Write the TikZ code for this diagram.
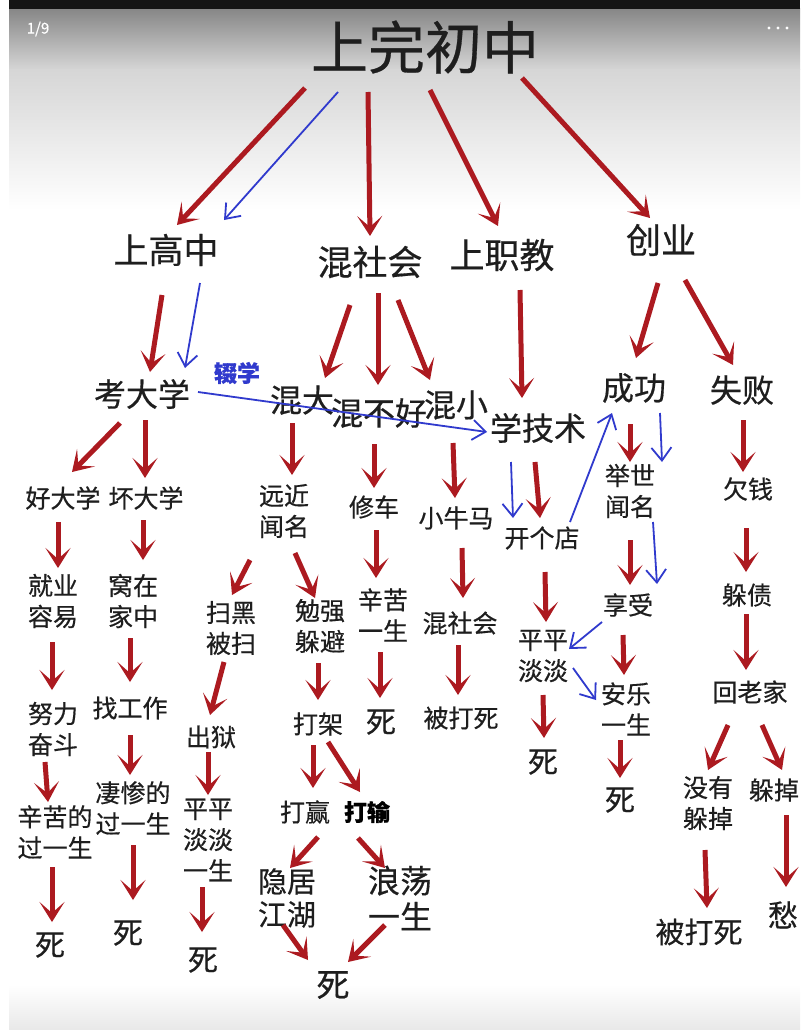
\documentclass[tikz,border=0pt]{standalone}
\usepackage{fontspec}
\setmainfont[FakeBold=0.5]{Noto Sans CJK SC}
\usetikzlibrary{arrows.meta}
\definecolor{arrred}{RGB}{172,26,32}
\definecolor{penblue}{RGB}{48,58,205}
\definecolor{txtgray}{RGB}{30,30,30}
\tikzset{
  every node/.style={text=txtgray, inner sep=0pt, align=center},
  lvtop/.style={font=\fontsize{57}{60}\selectfont},
  lvone/.style={font=\fontsize{35}{38}\selectfont},
  lvtwo/.style={font=\fontsize{32}{36}\selectfont},
  lvtext/.style={font=\fontsize{25}{31}\selectfont},
  lvsi/.style={font=\fontsize{30}{32}\selectfont},
  redarr/.style={draw=arrred, line width=5pt, -{Stealth[length=20pt,width=25pt,inset=11pt]}},
  bluearr/.style={draw=penblue, line width=1.8pt, -{Straight Barb[length=13pt,width=20pt,line width=1.8pt]}}
}
\begin{document}
\begin{tikzpicture}[x=1pt,y=-1pt]
  % frame of the screenshot
  \useasboundingbox (0,0) rectangle (800,1030);
  \clip (0,0) rectangle (800,1030);
  \fill[white] (0,0) rectangle (800,1030);
  \shade[top color={rgb,255:red,135;green,135;blue,135}, bottom color={rgb,255:red,214;green,214;blue,214}] (9,9) rectangle (800,70);
  \shade[top color={rgb,255:red,214;green,214;blue,214}, bottom color=white] (9,70) rectangle (800,210);
  \shade[top color=white, bottom color={rgb,255:red,232;green,232;blue,232}] (9,985) rectangle (800,1030);
  \fill[black!92] (9,0) rectangle (800,9);
  \node[text=white!88, font=\fontsize{15}{15}\selectfont] (page) at (38,29) {1/9};
  \foreach \dx in {769,778,787} \fill[white] (\dx,28) circle (1.6);

  % top level
  \node[lvtop] (top) at (425,47) {上完初中};
  \node[lvone] (gz) at (166,250) {上高中};
  \node[lvone] (hsh) at (370,262) {混社会};
  \node[lvone] (zj) at (502,255) {上职教};
  \node[lvone] (cy) at (661,240) {创业};

  % second level
  \node[lvtwo] (kdx) at (142,394) {考大学};
  \node[lvtwo] (hd) at (302,400) {混大};
  \node[lvtwo] (hbh) at (379,413) {混不好};
  \node[lvtwo] (hx) at (456,405) {混小};
  \node[lvtwo] (xjs) at (538,428) {学技术};
  \node[lvtwo] (cg) at (634,388) {成功};
  \node[lvtwo] (sb) at (742,390) {失败};
  \node[text=penblue, font=\fontsize{23}{25}\selectfont\bfseries] (chuoxue) at (237,373) {辍学};

  % third level
  \node[lvtext] (hdx) at (63,498) {好大学};
  \node[lvtext] (hudx) at (146,498) {坏大学};
  \node[lvtext] (yjwm) at (284,511) {远近\\闻名};
  \node[lvtext] (xc) at (374,507) {修车};
  \node[lvtext] (xnm) at (456,518) {小牛马};
  \node[lvtext] (kgd) at (542,538) {开个店};
  \node[lvtext] (jswm) at (630,491) {举世\\闻名};
  \node[lvtext] (qq) at (748,489) {欠钱};

  % fourth level
  \node[lvtext] (jyry) at (53,601) {就业\\容易};
  \node[lvtext] (wzjz) at (133,601) {窝在\\家中};
  \node[lvtext] (shbs) at (231,628) {扫黑\\被扫};
  \node[lvtext] (mqdb) at (320,626) {勉强\\躲避};
  \node[lvtext] (xkys) at (383,615) {辛苦\\一生};
  \node[lvtext] (hsh2) at (460,623) {混社会};
  \node[lvtext] (ppdd) at (543,656) {平平\\淡淡};
  \node[lvtext] (xs) at (628,605) {享受};
  \node[lvtext] (dz) at (747,595) {躲债};

  % fifth level
  \node[lvtext] (nlfd) at (53,729) {努力\\奋斗};
  \node[lvtext] (zgz) at (130,708) {找工作};
  \node[lvtext] (chuyu) at (211,737) {出狱};
  \node[lvtext] (dj) at (318,724) {打架};
  \node[lvsi] (si1) at (381,722) {死};
  \node[lvtext] (bds1) at (461,718) {被打死};
  \node[lvsi] (si2) at (543,762) {死};
  \node[lvtext] (alys) at (626,709) {安乐\\一生};
  \node[lvtext] (hlj) at (750,692) {回老家};

  % sixth level
  \node[lvtext] (xkdgys) at (55,832) {辛苦的\\过一生};
  \node[lvtext] (qcdgys) at (133,808) {凄惨的\\过一生};
  \node[lvtext] (ppddys) at (208,840) {平平\\淡淡\\一生};
  \node[lvtext] (dy) at (305,812) {打赢};
  \node[lvtext, text=black, font=\fontsize{23}{25}\selectfont\bfseries] (ds) at (367,812) {打输};
  \node[lvsi] (si3) at (620,800) {死};
  \node[lvtext] (myddl) at (708,803) {没有\\躲掉};
  \node[lvtext] (ddl) at (774,790) {躲掉};

  % seventh level
  \node[lvsi] (si4) at (50,945) {死};
  \node[lvsi] (si5) at (128,933) {死};
  \node[lvsi] (si6) at (203,960) {死};
  \node[font=\fontsize{29}{33}\selectfont] (yjjh) at (287,898) {隐居\\江湖};
  \node[font=\fontsize{32}{36}\selectfont] (ldys) at (400,898) {浪荡\\一生};
  \node[font=\fontsize{29}{31}\selectfont] (bds2) at (699,932) {被打死};
  \node[lvsi] (chou) at (783,915) {愁};
  \node[font=\fontsize{33}{35}\selectfont] (si7) at (333,985) {死};

  % red arrows
  \draw[redarr] ([shift={(-120,41)}]top.center) -- ([shift={(11,-25)}]gz.center);
  \draw[redarr] ([shift={(-57,45)}]top.center) -- ([shift={(0,-26)}]hsh.center);
  \draw[redarr] ([shift={(5,43)}]top.center) -- ([shift={(-4,-29)}]zj.center);
  \draw[redarr] ([shift={(97,31)}]top.center) -- ([shift={(-11,-22)}]cy.center);
  \draw[redarr] ([shift={(-4,45)}]gz.center) -- ([shift={(8,-22)}]kdx.center);
  \draw[redarr] ([shift={(-20,43)}]hsh.center) -- ([shift={(23,-22)}]hd.center);
  \draw[redarr] ([shift={(8,31)}]hsh.center) -- ([shift={(-1,-28)}]hbh.center);
  \draw[redarr] ([shift={(28,38)}]hsh.center) -- ([shift={(-26,-25)}]hx.center);
  \draw[redarr] ([shift={(18,35)}]zj.center) -- ([shift={(-16,-30)}]xjs.center);
  \draw[redarr] ([shift={(-3,43)}]cy.center) -- ([shift={(2,-30)}]cg.center);
  \draw[redarr] ([shift={(24,40)}]cy.center) -- ([shift={(-9,-25)}]sb.center);
  \draw[redarr] ([shift={(-22,29)}]kdx.center) -- ([shift={(9,-26)}]hdx.center);
  \draw[redarr] ([shift={(3,26)}]kdx.center) -- ([shift={(-1,-20)}]hudx.center);
  \draw[redarr] ([shift={(-10,23)}]hd.center) -- ([shift={(8,-36)}]yjwm.center);
  \draw[redarr] ([shift={(-5,31)}]hbh.center) -- ([shift={(0,-19)}]xc.center);
  \draw[redarr] ([shift={(-3,38)}]hx.center) -- ([shift={(-1,-20)}]xnm.center);
  \draw[redarr] ([shift={(-3,34)}]xjs.center) -- ([shift={(-2,-20)}]kgd.center);
  \draw[redarr] ([shift={(-4,36)}]cg.center) -- ([shift={(0,-29)}]jswm.center);
  \draw[redarr] ([shift={(1,30)}]sb.center) -- ([shift={(-5,-17)}]qq.center);
  \draw[redarr] ([shift={(-5,24)}]hdx.center) -- ([shift={(5,-33)}]jyry.center);
  \draw[redarr] ([shift={(-3,22)}]hudx.center) -- ([shift={(10,-41)}]wzjz.center);
  \draw[redarr] ([shift={(-34,49)}]yjwm.center) -- ([shift={(1,-33)}]shbs.center);
  \draw[redarr] ([shift={(11,42)}]yjwm.center) -- ([shift={(-5,-28)}]mqdb.center);
  \draw[redarr] ([shift={(2,23)}]xc.center) -- ([shift={(-7,-37)}]xkys.center);
  \draw[redarr] ([shift={(6,30)}]xnm.center) -- ([shift={(3,-25)}]hsh2.center);
  \draw[redarr] ([shift={(3,34)}]kgd.center) -- ([shift={(3,-34)}]ppdd.center);
  \draw[redarr] ([shift={(0,49)}]jswm.center) -- ([shift={(2,-20)}]xs.center);
  \draw[redarr] ([shift={(-2,39)}]qq.center) -- ([shift={(-1,-23)}]dz.center);
  \draw[redarr] ([shift={(-1,41)}]jyry.center) -- ([shift={(-1,-39)}]nlfd.center);
  \draw[redarr] ([shift={(-3,37)}]wzjz.center) -- ([shift={(0,-26)}]zgz.center);
  \draw[redarr] ([shift={(-7,34)}]shbs.center) -- ([shift={(-1,-22)}]chuyu.center);
  \draw[redarr] ([shift={(-2,37)}]mqdb.center) -- ([shift={(0,-24)}]dj.center);
  \draw[redarr] ([shift={(-3,37)}]xkys.center) -- ([shift={(-1,-24)}]si1.center);
  \draw[redarr] ([shift={(-2,22)}]hsh2.center) -- ([shift={(-3,-23)}]bds1.center);
  \draw[redarr] ([shift={(0,39)}]ppdd.center) -- ([shift={(1,-24)}]si2.center);
  \draw[redarr] ([shift={(-5,30)}]xs.center) -- ([shift={(-2,-34)}]alys.center);
  \draw[redarr] ([shift={(-1,19)}]dz.center) -- ([shift={(-4,-22)}]hlj.center);
  \draw[redarr] ([shift={(-8,33)}]nlfd.center) -- ([shift={(-7,-30)}]xkdgys.center);
  \draw[redarr] ([shift={(0,27)}]zgz.center) -- ([shift={(-3,-33)}]qcdgys.center);
  \draw[redarr] ([shift={(-3,15)}]chuyu.center) -- ([shift={(0,-45)}]ppddys.center);
  \draw[redarr] ([shift={(-5,21)}]dj.center) -- ([shift={(8,-24)}]dy.center);
  \draw[redarr] ([shift={(10,18)}]dj.center) -- ([shift={(-7,-20)}]ds.center);
  \draw[redarr] ([shift={(-6,31)}]alys.center) -- ([shift={(0,-22)}]si3.center);
  \draw[redarr] ([shift={(-22,33)}]hlj.center) -- ([shift={(0,-33)}]myddl.center);
  \draw[redarr] ([shift={(12,33)}]hlj.center) -- ([shift={(8,-20)}]ddl.center);
  \draw[redarr] ([shift={(12,25)}]ddl.center) -- ([shift={(3,-28)}]chou.center);
  \draw[redarr] ([shift={(-3,35)}]xkdgys.center) -- ([shift={(2,-23)}]si4.center);
  \draw[redarr] ([shift={(0,37)}]qcdgys.center) -- ([shift={(5,-33)}]si5.center);
  \draw[redarr] ([shift={(-6,47)}]ppddys.center) -- ([shift={(-1,-28)}]si6.center);
  \draw[redarr] ([shift={(13,25)}]dy.center) -- ([shift={(3,-30)}]yjjh.center);
  \draw[redarr] ([shift={(-9,26)}]ds.center) -- ([shift={(-15,-30)}]ldys.center);
  \draw[redarr] ([shift={(-3,47)}]myddl.center) -- ([shift={(8,-24)}]bds2.center);
  \draw[redarr] ([shift={(-4,27)}]yjjh.center) -- ([shift={(-25,-25)}]si7.center);
  \draw[redarr] ([shift={(-15,27)}]ldys.center) -- ([shift={(15,-23)}]si7.center);

  % blue pen strokes
  \draw[bluearr] ([shift={(-87,45)}]top.center) -- ([shift={(58,-30)}]gz.center);
  \draw[bluearr] ([shift={(34,33)}]gz.center) -- ([shift={(43,-26)}]kdx.center);
  \draw[bluearr] ([shift={(56,-2)}]kdx.center) -- ([shift={(-51,4)}]xjs.center);
  \draw[bluearr] ([shift={(-27,34)}]xjs.center) -- ([shift={(-29,-20)}]kgd.center);
  \draw[bluearr] ([shift={(28,-16)}]kgd.center) -- ([shift={(-22,25)}]cg.center);
  \draw[bluearr] ([shift={(26,25)}]cg.center) -- ([shift={(32,-29)}]jswm.center);
  \draw[bluearr] ([shift={(23,31)}]jswm.center) -- ([shift={(29,-21)}]xs.center);
  \draw[bluearr] ([shift={(-26,17)}]xs.center) -- ([shift={(26,-7)}]ppdd.center);
  \draw[bluearr] ([shift={(30,12)}]ppdd.center) -- ([shift={(-30,-9)}]alys.center);
\end{tikzpicture}
\end{document}
